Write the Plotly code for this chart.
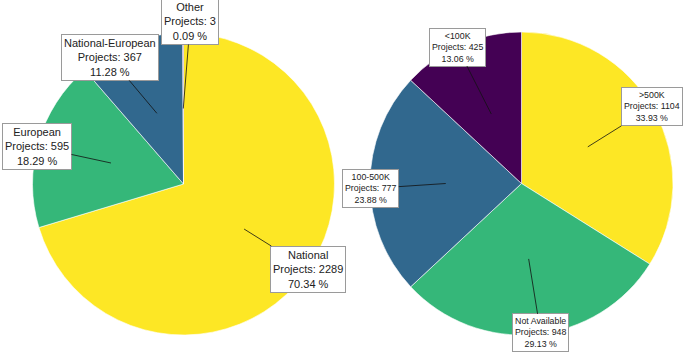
import math
import plotly.graph_objects as go

W, H = 685, 352

# Left pie data
left_labels = ["National", "European", "National-European", "Other"]
left_values = [2289, 595, 367, 3]
left_colors = ["#fde725", "#35b779", "#31688e", "#440154"]

# Right pie data
right_labels = [">500K", "Not Available", "100-500K", "<100K"]
right_values = [1104, 948, 777, 425]
right_colors = ["#fde725", "#35b779", "#31688e", "#440154"]

# Layout (pixel geometry)
left_center, left_r = (183.5, 184.0), 151.0
right_center, right_r = (521.5, 183.5), 151.5

# box offsets (pixels, from arrow tip to box center)
left_offsets = [(64, 40), (-74, -16), (-47, -56), (7, -87)]
right_offsets = [(64, -40), (12, 74), (-75, 5), (-34, -67)]


def domain(center, r):
    cx, cy = center
    return dict(x=[(cx - r) / W, (cx + r) / W],
                y=[1 - (cy + r) / H, 1 - (cy - r) / H])


fig = go.Figure()
for labels, values, colors, center, r in [
    (left_labels, left_values, left_colors, left_center, left_r),
    (right_labels, right_values, right_colors, right_center, right_r),
]:
    fig.add_trace(go.Pie(
        labels=labels, values=values, sort=False, direction="clockwise",
        rotation=0, marker=dict(colors=colors, line=dict(color="white", width=0.6)),
        textinfo="none", hoverinfo="label+value+percent", showlegend=False,
        domain=domain(center, r),
    ))

annotations = []
for labels, values, center, r, offsets, fsize, pad in [
    (left_labels, left_values, left_center, left_r, left_offsets, 11, 2),
    (right_labels, right_values, right_center, right_r, right_offsets, 8.8, 2),
]:
    total = sum(values)
    cum = 0
    for lab, v, (ax, ay) in zip(labels, values, offsets):
        mid = (cum + v / 2) / total * 2 * math.pi
        cum += v
        px = center[0] + 0.5 * r * math.sin(mid)
        py = center[1] - 0.5 * r * math.cos(mid)
        annotations.append(dict(
            x=px / W, y=1 - py / H, xref="paper", yref="paper",
            ax=ax, ay=ay, axref="pixel", ayref="pixel",
            text=f"{lab}<br>Projects: {v}<br>{v / total * 100:.2f} %",
            showarrow=True, arrowhead=0, arrowwidth=0.8, arrowcolor="#111",
            font=dict(family="Liberation Sans, Arial", size=fsize, color="#222"),
            bgcolor="white", bordercolor="#9a9a9a", borderwidth=1, borderpad=pad,
            align="center",
        ))

fig.update_layout(
    width=W, height=H, margin=dict(l=0, r=0, t=0, b=0),
    paper_bgcolor="white", plot_bgcolor="white",
    annotations=annotations,
)
fig.write_html("out.html")
